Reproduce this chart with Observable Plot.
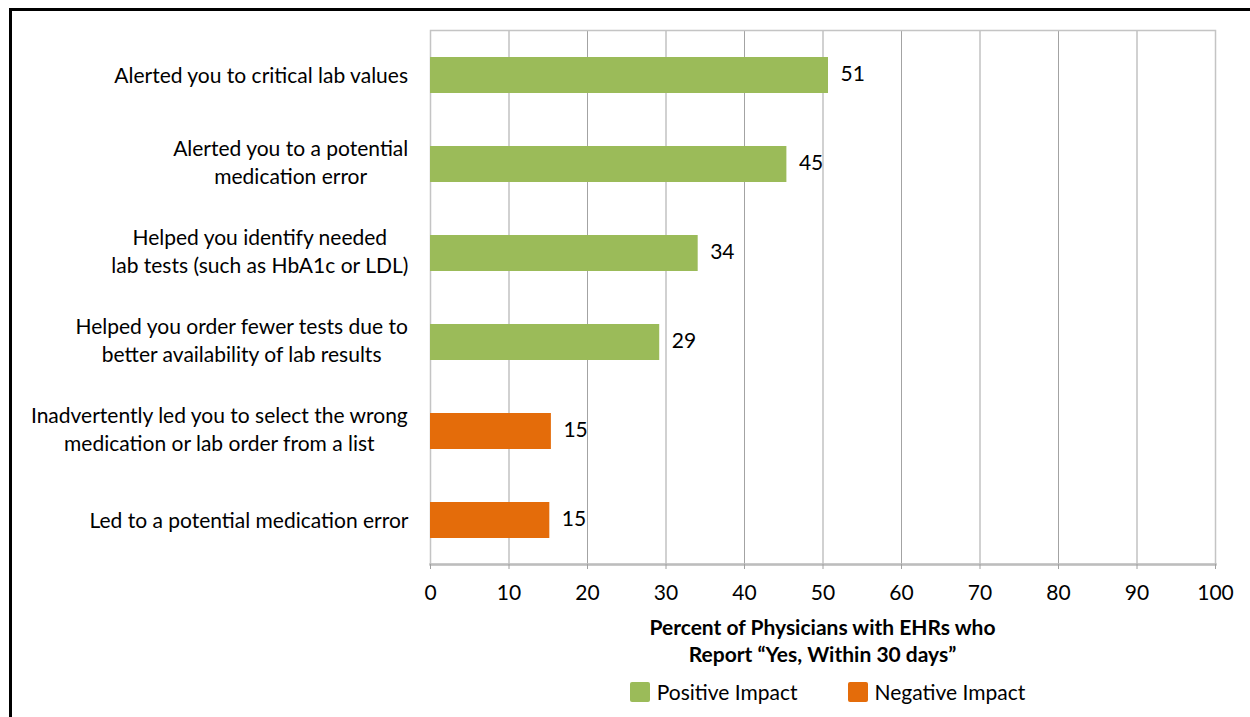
<!DOCTYPE html>
<html>
<head>
<meta charset="utf-8">
<script src="https://cdn.jsdelivr.net/npm/d3@7"></script>
<script src="https://cdn.jsdelivr.net/npm/@observablehq/plot@0.6"></script>
<style>
  html, body { margin: 0; padding: 0; background: #fff; }
  body { width: 1250px; height: 717px; position: relative; overflow: hidden; font-family: Lato, "Open Sans", sans-serif; }
  #border { position: absolute; left: 9px; top: 8px; width: 1400px; height: 900px; border-left: 3px solid #000; border-top: 3px solid #000; }
  #chart { position: absolute; left: 0; top: 0; }
  #xtitle { position: absolute; left: 430px; width: 785px; top: 613px; text-align: center; font-weight: bold; font-size: 21px; line-height: 27px; color: #000; }
  #legend { position: absolute; left: 435px; width: 785px; top: 679px; text-align: center; font-size: 21px; color: #000; }
  .li { display: inline-flex; align-items: center; margin: 0 25px; }
  .sw { width: 20px; height: 20px; display: inline-block; margin-right: 7px; border-radius: 2px; }
</style>
</head>
<body>
<div id="border"></div>
<div id="chart"></div>
<div id="xtitle">Percent of Physicians with EHRs who<br>Report “Yes, Within 30 days”</div>
<div id="legend"></div>
<script>
const categories = [
  "Alerted you to critical lab values",
  "Alerted you to a potential\nmedication error",
  "Helped you identify needed\nlab tests (such as HbA1c or LDL)",
  "Helped you order fewer tests due to\nbetter availability of lab results",
  "Inadvertently led you to select the wrong\nmedication or lab order from a list",
  "Led to a potential medication error"
];
const values = [50.7, 45.4, 34.1, 29.2, 15.4, 15.2];
const valueLabels = ["51", "45", "34", "29", "15", "15"];
const impacts = ["Positive Impact", "Positive Impact", "Positive Impact", "Positive Impact", "Negative Impact", "Negative Impact"];
const xTicks = [0, 10, 20, 30, 40, 50, 60, 70, 80, 90, 100];
const legendNames = ["Positive Impact", "Negative Impact"];
const legendColors = ["#9BBB59", "#E46C0A"];

const data = categories.map((c, i) => ({cat: c, value: values[i], label: valueLabels[i], impact: impacts[i]}));

const FS = 21;
const ctx = document.createElement("canvas").getContext("2d");
ctx.font = `${FS}px Lato`;
const blockWidth = c => Math.max(...c.split("\n").map(l => ctx.measureText(l).width));
const labelPad = 22;

const labelMarks = categories.map(c =>
  Plot.text([c], {
    y: d => d, text: d => d, frameAnchor: "left", textAnchor: "middle",
    dx: -(labelPad + blockWidth(c) / 2), dy: c.includes("\n") ? -3 : -1,
    lineHeight: 1.33, fontSize: FS, fill: "#000"
  })
);

const plot = Plot.plot({
  width: 1250,
  height: 610,
  marginTop: 30,
  marginBottom: 46,
  marginLeft: 430,
  marginRight: 35,
  style: {fontFamily: "Lato, 'Open Sans', sans-serif", fontSize: `${FS}px`, color: "#000", background: "transparent"},
  x: {domain: [0, 100], ticks: xTicks, label: null},
  y: {domain: categories, paddingInner: 0.596, paddingOuter: 0.298, axis: null},
  color: {domain: legendNames, range: legendColors},
  marks: [
    Plot.gridX(xTicks.slice(1, -1), {stroke: "#a3a3a3", strokeOpacity: 1, strokeWidth: 1}),
    Plot.frame({stroke: "#c4c4c4", strokeWidth: 1.5}),
    Plot.frame({anchor: "bottom", stroke: "#bdbdbd", strokeWidth: 2.5}),
    Plot.barX(data, {y: "cat", x: "value", fill: "impact"}),
    Plot.text(data, {y: "cat", x: "value", text: "label", textAnchor: "start", dx: 12, dy: -1, fontSize: FS, fill: "#000"}),
    Plot.axisX({ticks: xTicks, tickSize: 5, tickPadding: 16, stroke: "#a0a0a0", fontSize: FS, label: null, tickFormat: d => String(d)}),
    ...labelMarks
  ]
});
document.getElementById("chart").appendChild(plot);

const legend = document.getElementById("legend");
legendNames.forEach((n, i) => {
  const s = document.createElement("span");
  s.className = "li";
  s.innerHTML = `<span class="sw" style="background:${legendColors[i]}"></span>${n}`;
  legend.appendChild(s);
});
</script>
</body>
</html>
